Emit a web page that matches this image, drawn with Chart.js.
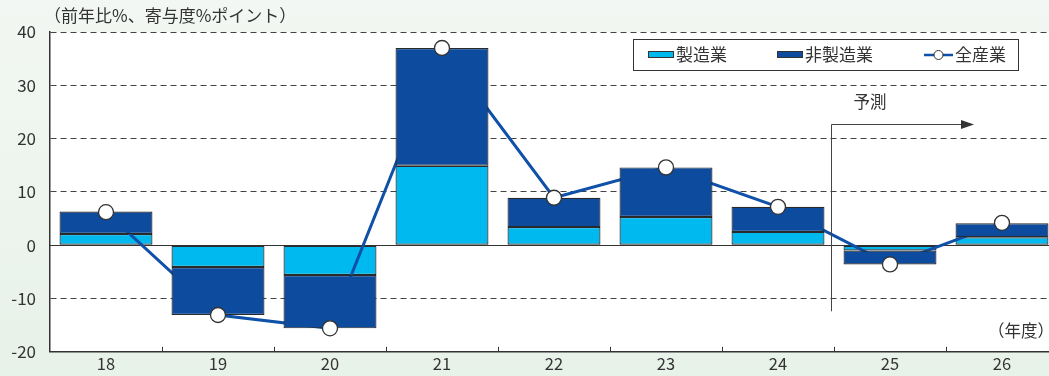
<!DOCTYPE html>
<html>
<head>
<meta charset="utf-8">
<script src="https://cdn.jsdelivr.net/npm/chart.js@4"></script>
<style>
  html, body { margin: 0; padding: 0; overflow: hidden; }
  /* the plot runs a little past the right edge of the picture */
  #wrap { width: 1049px; height: 376px; overflow: hidden; }
</style>
</head>
<body>
<div id="wrap"><canvas id="myChart" width="1058" height="376"></canvas></div>
<script>
var years = ['18', '19', '20', '21', '22', '23', '24', '25', '26'];
var manufacturing = [2.1, -4.1, -5.6, 14.9, 3.4, 5.3, 2.5, -1.0, 1.5];
var nonManufacturing = [4.2, -9.0, -10.0, 22.1, 5.5, 9.3, 4.7, -2.6, 2.6];
var allIndustries = [6.2, -13.1, -15.6, 37.0, 8.9, 14.6, 7.2, -3.6, 4.2];
var yTicks = [-20, -10, 0, 10, 20, 30, 40];

var FONT = '"Noto Sans CJK JP", "Noto Sans", sans-serif';
var LIGHT = '#00b9ef';
var DARK = '#0c4b9e';
var LINE = '#0f50a8';

// non-manufacturing sits on top of manufacturing (floating bars)
var nonManufRange = years.map(function (y, i) {
  return [manufacturing[i], manufacturing[i] + nonManufacturing[i]];
});

var decor = {
  id: 'decor',
  beforeDraw: function (chart) {
    var c = chart.ctx, a = chart.chartArea;
    var g = c.createLinearGradient(0, 0, 0, chart.height);
    g.addColorStop(0, '#f3f7f3');
    g.addColorStop(1, '#e7f2e9');
    c.save();
    c.fillStyle = g;
    c.fillRect(0, 0, chart.width, chart.height);
    c.fillStyle = '#ffffff';
    c.fillRect(a.left, a.top, a.right - a.left, a.bottom - a.top);
    c.restore();
  },
  beforeDatasetsDraw: function (chart) {
    var c = chart.ctx, a = chart.chartArea, y = chart.scales.y;
    // solid zero line
    c.save();
    c.strokeStyle = '#333';
    c.lineWidth = 1;
    c.beginPath();
    var y0 = Math.round(y.getPixelForValue(0)) + 0.5;
    c.moveTo(a.left, y0);
    c.lineTo(a.right, y0);
    c.stroke();
    c.restore();
  },
  afterDraw: function (chart) {
    var c = chart.ctx, a = chart.chartArea, x = chart.scales.x, y = chart.scales.y;
    c.save();
    c.strokeStyle = '#333';
    c.lineWidth = 1;

    // x ticks between categories, pointing up
    var step = x.getPixelForValue(1) - x.getPixelForValue(0);
    for (var i = 1; i < years.length; i++) {
      var px = Math.round(x.getPixelForValue(i) - step / 2) + 0.5;
      c.beginPath();
      c.moveTo(px, a.bottom - 5);
      c.lineTo(px, a.bottom);
      c.stroke();
    }

    // forecast marker
    var fx = Math.round((x.getPixelForValue(6) + x.getPixelForValue(7)) / 2 - 3) + 0.5;
    var fy = Math.round(y.getPixelForValue(22.7)) + 0.5;
    var fx2 = x.getPixelForValue(8) - 28;
    c.strokeStyle = '#444';
    c.beginPath();
    c.moveTo(fx, y.getPixelForValue(-12.4));
    c.lineTo(fx, fy);
    c.lineTo(fx2 - 10, fy);
    c.stroke();
    c.fillStyle = '#333';
    c.beginPath();
    c.moveTo(fx2, fy);
    c.lineTo(fx2 - 13, fy - 4.5);
    c.lineTo(fx2 - 13, fy + 4.5);
    c.closePath();
    c.fill();
    c.font = '16.5px ' + FONT;
    c.fillStyle = '#333';
    c.textAlign = 'center';
    c.textBaseline = 'middle';
    c.fillText('予測', 870, y.getPixelForValue(27));

    // texts
    c.font = '17px ' + FONT;
    c.textAlign = 'left';
    c.fillText('（前年比%、寄与度%ポイント）', 44, 16);
    c.font = '16.5px ' + FONT;
    c.textAlign = 'right';
    c.fillText('（年度）', 1054, 331);

    // legend
    c.fillStyle = '#fff';
    c.fillRect(633.5, 39.5, 385, 31);
    c.strokeStyle = '#333';
    c.strokeRect(633.5, 39.5, 385, 31);
    c.fillStyle = LIGHT;
    c.fillRect(648, 52, 26, 6);
    c.strokeRect(648.5, 51.5, 25, 6);
    c.fillStyle = DARK;
    c.fillRect(777, 52, 26, 6);
    c.strokeRect(777.5, 51.5, 25, 6);
    c.strokeStyle = LINE;
    c.lineWidth = 2.5;
    c.beginPath();
    c.moveTo(924, 55);
    c.lineTo(953, 55);
    c.stroke();
    c.beginPath();
    c.arc(938.5, 55, 4.5, 0, Math.PI * 2);
    c.fillStyle = '#fff';
    c.fill();
    c.lineWidth = 1;
    c.strokeStyle = '#333';
    c.stroke();
    c.fillStyle = '#333';
    c.font = '17px ' + FONT;
    c.textAlign = 'left';
    c.fillText('製造業', 676, 55);
    c.fillText('非製造業', 805, 55);
    c.fillText('全産業', 955, 55);
    c.restore();
  }
};

var ctx = document.getElementById('myChart').getContext('2d');

var myChart = new Chart(ctx, {
  data: {
    labels: years,
    datasets: [{
      type: 'bar',
      label: '製造業',
      data: manufacturing,
      backgroundColor: LIGHT,
      borderColor: '#2a2a2a',
      borderWidth: 1.2,
      borderSkipped: false,
      grouped: false,
      order: 4
    },
    {
      type: 'line',
      label: '全産業',
      data: allIndustries,
      borderColor: LINE,
      borderWidth: 3,
      pointRadius: 0,
      order: 3
    },
    {
      type: 'bar',
      label: '非製造業',
      data: nonManufRange,
      backgroundColor: DARK,
      borderColor: '#2a2a2a',
      borderWidth: 1.2,
      borderSkipped: false,
      grouped: false,
      order: 2
    },
    {
      type: 'line',
      label: '全産業点',
      data: allIndustries,
      showLine: false,
      pointRadius: 7.5,
      pointBackgroundColor: '#fff',
      pointBorderColor: '#333',
      pointBorderWidth: 1.3,
      order: 1
    }]
  },
  options: {
    responsive: false,
    animation: false,
    layout: { autoPadding: false, padding: { top: 32, right: 0, left: 0, bottom: 0 } },
    datasets: {
      bar: { categoryPercentage: 1, barPercentage: 0.83 }
    },
    plugins: {
      legend: { display: false },
      tooltip: { enabled: false }
    },
    scales: {
      x: {
        offset: true,
        grid: { display: false, drawTicks: false },
        border: { display: true, color: '#333', width: 1.5 },
        ticks: { color: '#333', font: { family: FONT, size: 16.5 }, padding: 2 },
        afterFit: function (s) {
          s.height = 24;
          s.paddingLeft = 0;
          s.paddingRight = 0;
        }
      },
      y: {
        min: -20,
        max: 40,
        afterBuildTicks: function (s) {
          s.ticks = yTicks.map(function (v) { return { value: v }; });
        },
        grid: { color: '#444', lineWidth: 1, drawTicks: false },
        border: { display: true, color: '#333', width: 1.5, dash: [6, 4] },
        ticks: { color: '#333', font: { family: FONT, size: 17 }, padding: 14 },
        afterFit: function (s) { s.width = 50; }
      }
    }
  },
  plugins: [decor]
});
</script>
</body>
</html>
